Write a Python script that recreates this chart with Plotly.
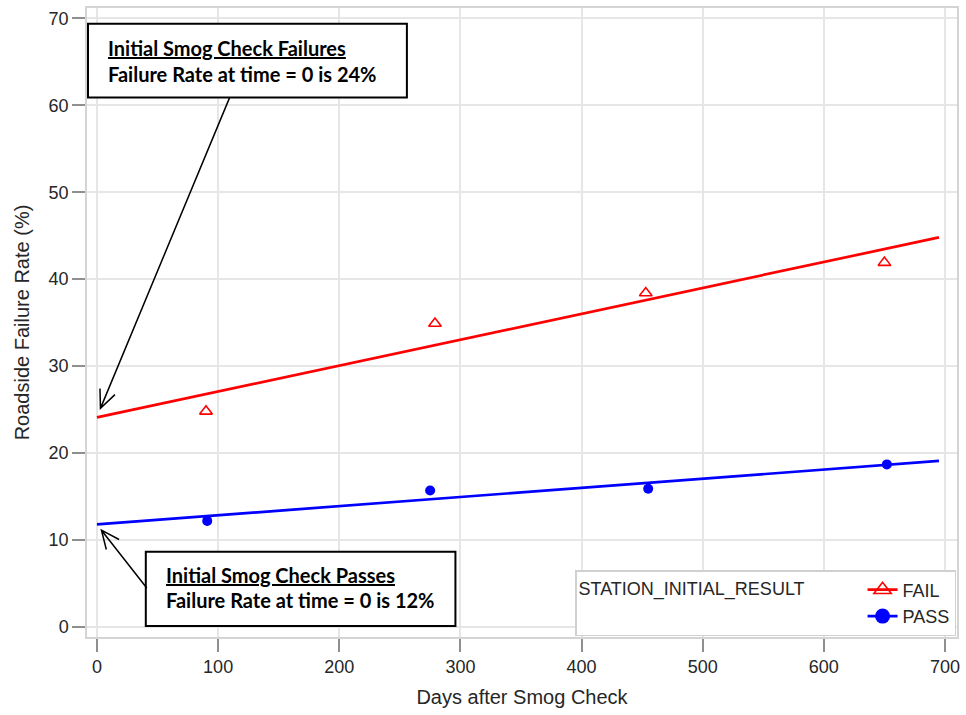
import math
import plotly.graph_objects as go

# Roadside failure rate by days since the station smog check
fail_days = [90, 279, 453, 650]
fail_rate = [24.8, 34.9, 38.4, 41.9]
pass_days = [91, 275, 455, 652]
pass_rate = [12.2, 15.7, 15.9, 18.7]

# Fitted trend lines (end points of each regression line)
fit_days = [0, 695]
fail_fit = [24.1, 44.8]
pass_fit = [11.8, 19.1]

x_ticks = [0, 100, 200, 300, 400, 500, 600, 700]
y_ticks = [0, 10, 20, 30, 40, 50, 60, 70]

legend_title = "STATION_INITIAL_RESULT"
fail_name = "FAIL"
pass_name = "PASS"

note_fail = ["Initial Smog Check Failures", "Failure Rate at time = 0 is 24%"]
note_pass = ["Initial Smog Check Passes", "Failure Rate at time = 0 is 12%"]

RED = "#ff0000"
BLUE = "#0000ff"

W, H = 966, 715
M_L, M_R, M_T, M_B = 87, 6, 7, 78
PLOT_W = W - M_L - M_R
PLOT_H = H - M_T - M_B


def px(xp):
    return (xp - M_L) / PLOT_W


def py(yp):
    return (H - M_B - yp) / PLOT_H


def arrow_path(tail, tip, head_len=20.0, half_angle=24.0):
    dx, dy = tail[0] - tip[0], tail[1] - tip[1]
    n = math.hypot(dx, dy)
    ux, uy = dx / n, dy / n
    arms = []
    for s in (1, -1):
        a = math.radians(half_angle) * s
        rx = ux * math.cos(a) - uy * math.sin(a)
        ry = ux * math.sin(a) + uy * math.cos(a)
        arms.append((tip[0] + rx * head_len, tip[1] + ry * head_len))

    def p(pt):
        return f"{px(pt[0]):.5f},{py(pt[1]):.5f}"

    return (f"M {p(tail)} L {p(tip)} M {p(arms[0])} L {p(tip)} L {p(arms[1])}")


fig = go.Figure()

fig.add_trace(go.Scatter(x=fit_days, y=fail_fit, mode="lines",
                         line=dict(color=RED, width=2.7), showlegend=False,
                         hoverinfo="skip"))
fig.add_trace(go.Scatter(x=fit_days, y=pass_fit, mode="lines",
                         line=dict(color=BLUE, width=2.7), showlegend=False,
                         hoverinfo="skip"))
fig.add_trace(go.Scatter(x=fail_days, y=fail_rate, mode="markers",
                         marker=dict(symbol="triangle-up-open", size=11,
                                     color=RED, line=dict(width=1.6, color=RED)),
                         showlegend=False))
fig.add_trace(go.Scatter(x=pass_days, y=pass_rate, mode="markers",
                         marker=dict(symbol="circle", size=10, color=BLUE),
                         showlegend=False))

# legend entries with larger symbols
fig.add_trace(go.Scatter(x=[None], y=[None], mode="lines+markers", name=fail_name,
                         line=dict(color=RED, width=2.7),
                         marker=dict(symbol="triangle-up-open", size=15, color=RED,
                                     line=dict(width=1.6, color=RED))))
fig.add_trace(go.Scatter(x=[None], y=[None], mode="lines+markers", name=pass_name,
                         line=dict(color=BLUE, width=2.7),
                         marker=dict(symbol="circle", size=15, color=BLUE)))

axis_common = dict(
    showgrid=True, gridcolor="#e6e6e6", gridwidth=1.5,
    zeroline=False,
    showline=True, linecolor="#d4d4d4", linewidth=1.5, mirror=True,
    ticks="outside", ticklen=13, tickwidth=1.5, tickcolor="#8f8f8f",
    tickfont=dict(family="Liberation Sans, Arial, sans-serif", size=18, color="#262626"),
)

fig.update_xaxes(**axis_common, range=[-8.23, 709.9], tickvals=x_ticks,
                 title=dict(text="Days after Smog Check", standoff=14,
                            font=dict(family="Liberation Sans, Arial, sans-serif",
                                      size=20, color="#262626")))
fig.update_yaxes(**axis_common, range=[-1.15, 71.18], tickvals=y_ticks,
                 title=dict(text="Roadside Failure Rate (%)", standoff=14,
                            font=dict(family="Liberation Sans, Arial, sans-serif",
                                      size=20, color="#262626")))

box_fail = (88, 22.7, 408, 96.7)
box_pass = (146, 551.7, 456.7, 626)

shapes = []
for b in (box_fail, box_pass):
    shapes.append(dict(type="rect", xref="paper", yref="paper",
                       x0=px(b[0]), x1=px(b[2]), y0=py(b[3]), y1=py(b[1]),
                       line=dict(color="black", width=2), fillcolor="white",
                       layer="above"))

shapes.append(dict(type="path", xref="paper", yref="paper",
                   path=arrow_path((230, 97), (100.5, 408)),
                   line=dict(color="black", width=1.5), layer="above"))
shapes.append(dict(type="path", xref="paper", yref="paper",
                   path=arrow_path((147, 588), (101.5, 530)),
                   line=dict(color="black", width=1.5), layer="above"))

note_font = dict(family="Lato, Carlito, sans-serif", size=20, color="black")
annotations = []
for box, lines, offsets in ((box_fail, note_fail, (47.5, 73)),
                            (box_pass, note_pass, (574.5, 599.5))):
    for i, (txt, yc) in enumerate(zip(lines, offsets)):
        t = f"<b><u>{txt}</u></b>" if i == 0 else f"<b>{txt}</b>"
        annotations.append(dict(text=t, xref="paper", yref="paper",
                                x=px(box[0] + 18), y=py(yc), xanchor="left",
                                yanchor="middle", showarrow=False, font=note_font))

fig.update_layout(
    width=W, height=H,
    margin=dict(l=M_L, r=M_R, t=M_T, b=M_B),
    paper_bgcolor="white", plot_bgcolor="white",
    shapes=shapes, annotations=annotations,
    legend=dict(
        x=px(959), xanchor="right", y=py(636), yanchor="bottom",
        bgcolor="white", bordercolor="#d0d0d0", borderwidth=1.5,
        font=dict(family="Liberation Sans, Arial, sans-serif", size=18, color="#262626"),
        title=dict(text=legend_title + "\u00a0" * 10, side="left",
                   font=dict(family="Liberation Sans, Arial, sans-serif", size=18,
                             color="#262626")),
    ),
    showlegend=True,
)

fig.write_html("out.html")
